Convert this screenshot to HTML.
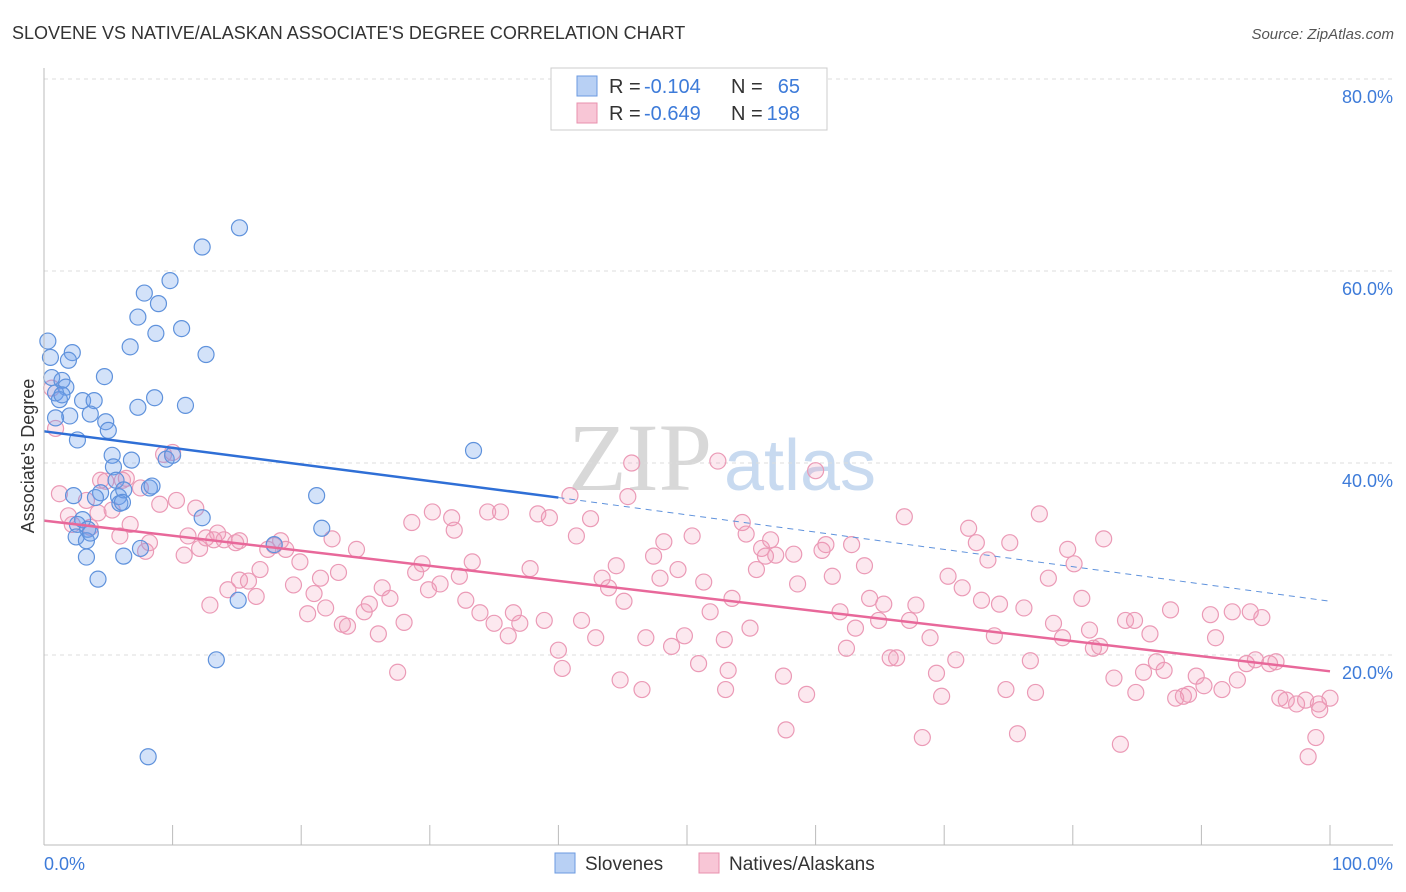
<!DOCTYPE html>
<html><head><meta charset="utf-8"><style>
body{margin:0;background:#fff;font-family:"Liberation Sans",sans-serif;}
svg{display:block}
</style></head><body>
<svg id="chart" width="1406" height="892">
<text x="12" y="39" font-size="18" fill="#333">SLOVENE VS NATIVE/ALASKAN ASSOCIATE'S DEGREE CORRELATION CHART</text>
<text x="1394" y="39" font-size="15" fill="#555" text-anchor="end" font-style="italic">Source: ZipAtlas.com</text>
<text x="640" y="490" font-size="96" fill="#d8d8d8" font-family="Liberation Serif,serif" text-anchor="middle">ZIP</text>
<text x="800" y="490" font-size="72" fill="#c8daf0" text-anchor="middle">atlas</text>
<g id="grid"></g><g id="pts"></g><g id="lines"></g>
<line x1="44" y1="68" x2="44" y2="845" stroke="#bbb"/>
<line x1="44" y1="845" x2="1393" y2="845" stroke="#bbb"/>
<text x="34" y="456" font-size="18" fill="#333" text-anchor="middle" transform="rotate(-90 34 456)">Associate's Degree</text>
<text x="44" y="870" font-size="18" fill="#3d7bd9">0.0%</text>
<text x="1393" y="870" font-size="18" fill="#3d7bd9" text-anchor="end">100.0%</text>
<g font-size="20">
<rect x="551" y="68" width="276" height="62" fill="#fff" stroke="#ccc"/>
<rect x="577" y="76" width="20" height="20" fill="#b8d0f4" stroke="#6b9ae0"/>
<rect x="577" y="103" width="20" height="20" fill="#f8c6d6" stroke="#e890ae"/>
<text x="609" y="93" fill="#333">R =</text><text x="644" y="93" fill="#3d7bd9">-0.104</text>
<text x="731" y="93" fill="#333">N =</text><text x="800" y="93" fill="#3d7bd9" text-anchor="end">65</text>
<text x="609" y="120" fill="#333">R =</text><text x="644" y="120" fill="#3d7bd9">-0.649</text>
<text x="731" y="120" fill="#333">N =</text><text x="800" y="120" fill="#3d7bd9" text-anchor="end">198</text>
</g>
<g>
<rect x="555" y="853" width="20" height="20" fill="#b8d0f4" stroke="#6b9ae0"/>
<text x="585" y="870" font-size="19" fill="#333">Slovenes</text>
<rect x="699" y="853" width="20" height="20" fill="#f8c6d6" stroke="#e890ae"/>
<text x="729" y="870" font-size="19" fill="#333">Natives/Alaskans</text>
</g>
</svg>
<script>
const yTicks=[20,40,60,80];
const xTickCount=10;
const bluePx=[[48,341],[50,357],[72,353],[68,360],[52,378],[62,380],[66,387],[56,393],[60,400],[82,401],[94,401],[70,416],[90,414],[104,377],[56,418],[106,422],[108,430],[78,440],[130,347],[138,317],[144,293],[158,304],[170,281],[156,333],[182,329],[202,247],[240,228],[206,355],[154,398],[138,407],[186,405],[112,455],[114,467],[132,460],[166,459],[172,455],[116,480],[74,496],[100,493],[96,498],[118,497],[120,503],[124,490],[150,488],[152,486],[122,502],[82,520],[78,524],[88,529],[76,537],[86,541],[90,533],[140,548],[124,556],[86,557],[98,579],[202,518],[238,600],[216,660],[148,757],[316,496],[322,528],[274,545],[474,451],[62,395]];
const pinkPx=[[52,388],[56,428],[60,494],[68,516],[72,524],[90,527],[86,500],[100,480],[106,481],[112,510],[120,536],[126,478],[130,524],[140,488],[146,551],[150,543],[160,504],[164,454],[172,452],[176,500],[184,555],[188,536],[196,508],[200,548],[206,538],[214,540],[218,533],[224,540],[228,590],[236,543],[240,580],[248,581],[256,596],[260,570],[268,549],[274,546],[280,541],[286,549],[294,585],[300,562],[308,614],[314,594],[320,578],[326,608],[332,539],[338,572],[342,624],[348,626],[356,549],[364,612],[370,604],[378,634],[382,588],[390,598],[398,672],[404,622],[412,523],[416,572],[422,564],[428,590],[432,512],[440,584],[452,518],[460,576],[466,600],[472,562],[480,613],[488,512],[494,623],[500,512],[508,636],[514,613],[520,623],[530,569],[538,514],[544,620],[550,518],[558,650],[562,668],[570,496],[576,536],[582,620],[590,519],[596,638],[602,578],[608,588],[616,566],[624,601],[628,497],[632,463],[642,690],[646,638],[654,556],[660,578],[664,542],[672,646],[678,570],[684,636],[692,536],[698,664],[704,582],[710,612],[718,461],[724,640],[728,670],[726,690],[732,598],[742,523],[746,534],[750,628],[756,570],[762,548],[766,556],[770,540],[776,555],[784,676],[786,730],[794,554],[798,584],[806,694],[816,471],[822,550],[826,545],[832,576],[840,612],[846,648],[852,545],[856,628],[864,566],[870,598],[878,620],[884,604],[890,658],[896,658],[904,517],[910,620],[916,605],[922,738],[930,638],[936,673],[942,696],[948,576],[956,660],[962,588],[968,528],[976,543],[982,600],[988,560],[994,636],[1000,604],[1006,690],[1010,543],[1018,734],[1024,608],[1030,661],[1036,692],[1040,514],[1048,578],[1054,623],[1062,638],[1068,549],[1074,564],[1082,598],[1090,630],[1094,648],[1100,646],[1104,539],[1114,678],[1120,744],[1126,620],[1134,620],[1136,692],[1144,672],[1150,634],[1156,662],[1164,670],[1170,610],[1176,698],[1184,696],[1188,694],[1196,676],[1204,686],[1210,615],[1216,638],[1222,690],[1232,612],[1238,680],[1246,664],[1250,612],[1256,660],[1262,618],[1270,664],[1276,662],[1280,698],[1286,700],[1296,704],[1306,700],[1316,738],[1320,710],[1308,757],[1330,698],[1318,704],[122,480],[98,513],[240,541],[210,605],[454,530],[620,680]];
const blueX=bluePx.map(p=>+((p[0]-44)/12.86).toFixed(1));
const blueY=bluePx.map(p=>+((847-p[1])/9.6).toFixed(1));
const pinkX=pinkPx.map(p=>+((p[0]-44)/12.86).toFixed(1));
const pinkY=pinkPx.map(p=>+((847-p[1])/9.6).toFixed(1));
const blueTrend=[[0,43.3],[40,36.4],[100,25.6]];
const pinkTrend=[[0,34.0],[100,18.3]];

const X=v=>44+v*12.86, Y=v=>847-v*9.6;
const NS='http://www.w3.org/2000/svg';
function mk(t,a,parent){const e=document.createElementNS(NS,t);for(const k in a)e.setAttribute(k,a[k]);parent.appendChild(e);return e;}
const grid=document.getElementById('grid'),pts=document.getElementById('pts'),lines=document.getElementById('lines');
yTicks.forEach(t=>{
 const l=mk('line',{x1:44,x2:1393,y1:Y(t),y2:Y(t),stroke:'#ddd','stroke-dasharray':'4 4'},grid);
 
 
 const tx=mk('text',{x:1393,y:Y(t)+24,'font-size':18,fill:'#3d7bd9','text-anchor':'end'},grid);
 tx.textContent=t.toFixed(1)+'%';
 
 
});
for(let i=0;i<=xTickCount;i++){
 const l=mk('line',{x1:X(i*10),x2:X(i*10),y1:825,y2:845,stroke:'#bbb'},grid);
 
 
}
pinkX.forEach((v,i)=>{
 const c=mk('circle',{cx:X(v),cy:Y(pinkY[i]),r:8,fill:'rgba(240,150,180,0.22)',stroke:'#eb9ab6','stroke-width':1.2},pts);
 
 
});
blueX.forEach((v,i)=>{
 const c=mk('circle',{cx:X(v),cy:Y(blueY[i]),r:8,fill:'rgba(110,160,235,0.3)',stroke:'#5f92dc','stroke-width':1.2},pts);
 
 
});
let l1=mk('line',{x1:X(blueTrend[0][0]),y1:Y(blueTrend[0][1]),x2:X(blueTrend[1][0]),y2:Y(blueTrend[1][1]),stroke:'#2f6fd6','stroke-width':2.5},lines);


let l2=mk('line',{x1:X(blueTrend[1][0]),y1:Y(blueTrend[1][1]),x2:X(blueTrend[2][0]),y2:Y(blueTrend[2][1]),stroke:'#5f92dc','stroke-width':1,'stroke-dasharray':'6 5'},lines);


let l3=mk('line',{x1:X(pinkTrend[0][0]),y1:Y(pinkTrend[0][1]),x2:X(pinkTrend[1][0]),y2:Y(pinkTrend[1][1]),stroke:'#e8689a','stroke-width':2.5},lines);


</script>
</body></html>
